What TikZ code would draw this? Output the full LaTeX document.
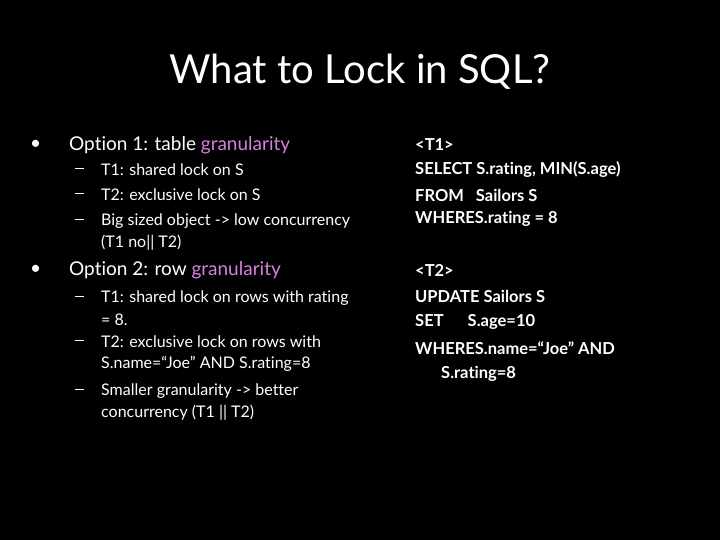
\documentclass[tikz,border=0pt]{standalone}
\usepackage{fontspec}
\setmainfont{Lato}[RawFeature={-liga;-clig;-dlig;-calt}]
\definecolor{pur}{RGB}{214,130,220}
\newcommand{\dsh}{\rule[0.22em]{0.55em}{0.7pt}}
\begin{document}
\begin{tikzpicture}[x=1pt,y=-1pt,
 every node/.style={text=white,inner sep=0pt,anchor=west},
 ttl/.style={font=\fontsize{40}{42}\selectfont,anchor=center},
 lvl/.style={font=\fontsize{19}{21}\selectfont},
 sub/.style={font=\fontsize{16}{18}\selectfont},
 rt/.style={font=\bfseries\fontsize{16.5}{18}\selectfont}]
\fill[black] (0,0) rectangle (720,540);
\useasboundingbox (0,0) rectangle (720,540);
\node[ttl] (title) at (360,72) {What to Lock in SQL?};
\node[lvl] (b1) at (30,145) {•};
\node[lvl] (o1) at (69,145) {Option 1: table \textcolor{pur}{granularity}};
\node[sub] (d1) at (75,170) {\dsh}; \node[sub] (s1) at (101,170) {T1: shared lock on S};
\node[sub] (d2) at (75,195) {\dsh}; \node[sub] (s2) at (101,195) {T2: exclusive lock on S};
\node[sub] (d3) at (75,221) {\dsh}; \node[sub] (s3) at (101,221) {Big sized object -> low concurrency};
\node[sub] (s3b) at (101,243) {(T1 no|| T2)};
\node[lvl] (b2) at (30,270) {•};
\node[lvl] (o2) at (69,270) {Option 2: row \textcolor{pur}{granularity}};
\node[sub] (d4) at (75,298) {\dsh}; \node[sub] (s4) at (101,298) {T1: shared lock on rows with rating};
\node[sub] (s4b) at (101,320) {= 8.};
\node[sub] (d5) at (75,342) {\dsh}; \node[sub] (s5) at (101,342) {T2: exclusive lock on rows with};
\node[sub] (s5b) at (101,364) {S.name=“Joe” AND S.rating=8};
\node[sub] (d6) at (75,391) {\dsh}; \node[sub] (s6) at (101,391) {Smaller granularity -> better};
\node[sub] (s6b) at (101,413) {concurrency (T1 || T2)};
\node[rt] (r1) at (415,145) {<T1>};
\node[rt] (r2) at (415,170) {SELECT S.rating, MIN(S.age)};
\node[rt] (r3) at (415,195) {FROM\ \ \ Sailors S};
\node[rt] (r4) at (415,219) {WHERES.rating = 8};
\node[rt] (r5) at (415,270) {<T2>};
\node[rt] (r6) at (415,296) {UPDATE Sailors S};
\node[rt] (r7) at (415,322) {SET\ \ \ \ \ \ S.age=10};
\node[rt] (r8) at (415,348) {WHERES.name=“Joe” AND};
\node[rt] (r9) at (441,374) {S.rating=8};
\end{tikzpicture}
\end{document}
